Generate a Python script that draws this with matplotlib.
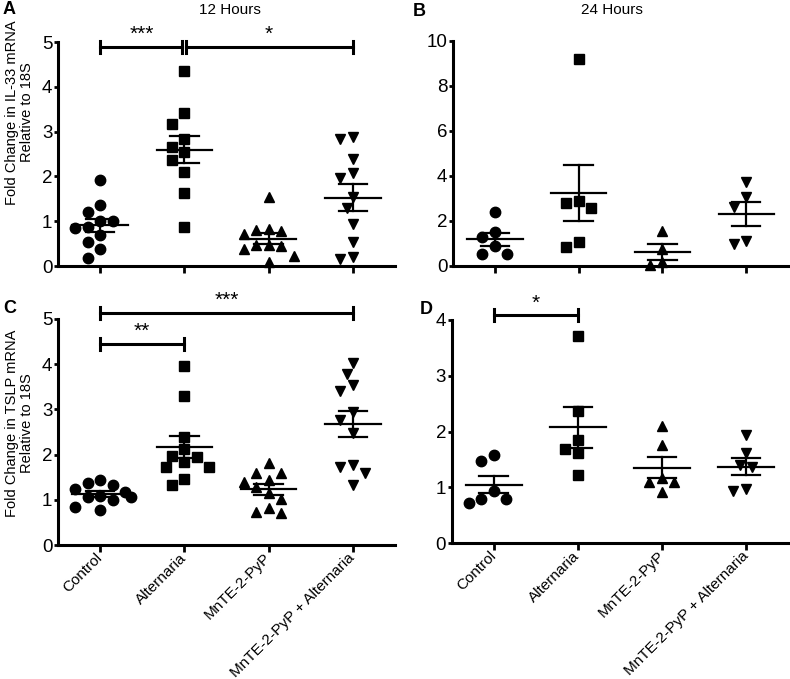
import numpy as np
import matplotlib
matplotlib.use('Agg')
import matplotlib.pyplot as plt

plt.rcParams['font.family'] = ['Liberation Sans', 'DejaVu Sans']

# Groups on the x axis
groups = ['Control', 'Alternaria', 'MnTE-2-PyP', 'MnTE-2-PyP + Alternaria']
markers = ['o', 's', '^', 'v']

# IL-33, 12 hours (panel A)
il33_12_ctrl = [1.92, 1.36, 1.21, 1.00, 1.00, 0.84, 0.88, 0.69, 0.54, 0.37, 0.19]
il33_12_alt = [4.36, 3.42, 3.18, 2.83, 2.66, 2.55, 2.37, 2.09, 1.64, 0.88]
il33_12_mn = [1.53, 0.82, 0.79, 0.80, 0.71, 0.46, 0.39, 0.45, 0.46, 0.22, 0.10]
il33_12_mnalt = [2.83, 2.87, 2.40, 1.96, 2.07, 1.55, 1.29, 0.94, 0.54, 0.15, 0.21]

# IL-33, 24 hours (panel B)
il33_24_ctrl = [2.37, 1.51, 1.29, 0.87, 0.50, 0.50]
il33_24_alt = [9.17, 2.80, 2.58, 2.89, 1.07, 0.84]
il33_24_mn = [1.56, 0.73, 0.03, 0.15]
il33_24_mnalt = [3.73, 3.07, 2.62, 0.96, 1.11]

# TSLP, 12 hours (panel C)
tslp_12_ctrl = [1.38, 1.23, 1.18, 1.33, 1.44, 1.07, 1.00, 1.07, 1.08, 0.77, 0.85]
tslp_12_alt = [3.96, 3.30, 2.40, 2.12, 1.95, 1.97, 1.84, 1.73, 1.72, 1.47, 1.33]
tslp_12_mn = [1.81, 1.59, 1.59, 1.44, 1.40, 1.28, 1.16, 1.01, 0.81, 0.74, 0.70]
tslp_12_mnalt = [4.02, 3.78, 3.54, 3.41, 2.95, 2.77, 2.47, 1.77, 1.73, 1.59, 1.33]

# TSLP, 24 hours (panel D)
tslp_24_ctrl = [1.58, 1.47, 0.94, 0.79, 0.72, 0.79]
tslp_24_alt = [3.71, 2.37, 1.85, 1.68, 1.61, 1.22]
tslp_24_mn = [2.09, 1.76, 1.10, 1.16, 1.10, 0.92]
tslp_24_mnalt = [1.94, 1.61, 1.40, 1.36, 0.94, 0.98]

# significance brackets: (from group, to group, height, label)
sig_a = [(0, 1, 4.9, '***'), (1, 3, 4.9, '*')]
sig_b = []
sig_c = [(0, 3, 5.14, '***'), (0, 1, 4.45, '**')]
sig_d = [(0, 1, 4.08, '*')]


def swarm(ax, x0, vals, diam):
    # simple beeswarm: push points sideways until they stop overlapping
    pix = ax.transData.transform(np.column_stack([np.full(len(vals), x0), vals]))
    ys = pix[:, 1]
    px_per_unit = ax.transData.transform((1, 0))[0] - ax.transData.transform((0, 0))[0]
    placed = []
    offs = np.zeros(len(vals))
    for i in np.argsort(-ys):
        for k in [0, -1, 1, -2, 2, -3, 3, -4, 4, -5, 5]:
            dx = k * diam * 0.5
            if all((dx - a) ** 2 + (ys[i] - b) ** 2 >= diam ** 2 for a, b in placed):
                break
        placed.append((dx, ys[i]))
        offs[i] = dx / px_per_unit
    return x0 + offs


def draw_panel(ax, data, ylim, yticks, sigs, show_labels):
    ax.set_xlim(-0.5, 3.5)
    ax.set_ylim(*ylim)
    for i, vals in enumerate(data):
        vals = np.asarray(vals)
        xs = swarm(ax, i, vals, 12.5)
        ms = 6.5 if markers[i] == 's' else 7.5
        ax.plot(xs, vals, markers[i], color='black', markersize=ms, clip_on=False, zorder=3)
        m = vals.mean()
        sem = vals.std(ddof=1) / np.sqrt(len(vals))
        ax.plot([i - 0.33, i + 0.33], [m, m], color='black', lw=1.6, zorder=4)
        ax.plot([i - 0.17, i + 0.17], [m + sem, m + sem], color='black', lw=1.6, zorder=4)
        ax.plot([i - 0.17, i + 0.17], [m - sem, m - sem], color='black', lw=1.6, zorder=4)
        ax.plot([i, i], [m - sem, m + sem], color='black', lw=1.6, zorder=4)

    h_px = ax.get_window_extent().height
    cap = 6 * (ylim[1] - ylim[0]) / h_px
    ends = {}
    for a, b, y, lab in sigs:
        ends.setdefault(y, []).extend([a, b])
    for a, b, y, lab in sigs:
        # leave a small gap where two brackets meet at the same group
        xa = a + (0.025 if ends[y].count(a) > 1 else 0)
        xb = b - (0.025 if ends[y].count(b) > 1 else 0)
        ax.plot([xa, xb], [y, y], color='black', lw=2.2, clip_on=False)
        for xx in (xa, xb):
            ax.plot([xx, xx], [y - cap, y + cap], color='black', lw=2.2, clip_on=False)
        ax.annotate(lab, ((a + b) / 2, y), xytext=(0, 2), textcoords='offset points',
                    ha='center', va='bottom', fontsize=15, annotation_clip=False)

    for s in ['top', 'right']:
        ax.spines[s].set_visible(False)
    for s in ['left', 'bottom']:
        ax.spines[s].set_linewidth(2.2)
    ax.set_yticks(yticks)
    ax.tick_params(axis='y', direction='out', length=3, width=2, labelsize=13.5, pad=1)
    ax.tick_params(axis='x', direction='out', length=5, width=2, pad=2.5)
    ax.set_xticks(range(4))
    if show_labels:
        ax.set_xticklabels(groups, rotation=45, ha='right', va='center',
                           rotation_mode='anchor', fontsize=11)
    else:
        ax.set_xticklabels([])


fig = plt.figure(figsize=(7.9, 6.79), dpi=100)
ax_a = fig.add_axes([0.0734, 0.6082, 0.4266, 0.3299])
ax_b = fig.add_axes([0.5734, 0.6087, 0.4241, 0.3313])
ax_c = fig.add_axes([0.0734, 0.1973, 0.4266, 0.3329])
ax_d = fig.add_axes([0.5718, 0.1999, 0.4257, 0.3292])

draw_panel(ax_a, [il33_12_ctrl, il33_12_alt, il33_12_mn, il33_12_mnalt], (0, 5), range(0, 6), sig_a, False)
draw_panel(ax_b, [il33_24_ctrl, il33_24_alt, il33_24_mn, il33_24_mnalt], (0, 10), range(0, 11, 2), sig_b, False)
draw_panel(ax_c, [tslp_12_ctrl, tslp_12_alt, tslp_12_mn, tslp_12_mnalt], (0, 5), range(0, 6), sig_c, True)
draw_panel(ax_d, [tslp_24_ctrl, tslp_24_alt, tslp_24_mn, tslp_24_mnalt], (0, 4), range(0, 5), sig_d, True)

ax_a.set_ylabel('Fold Change in IL-33 mRNA\nRelative to 18S', fontsize=10.5, linespacing=1.1)
ax_a.yaxis.set_label_coords(-0.072, 0.685)
ax_c.set_ylabel('Fold Change in TSLP mRNA\nRelative to 18S', fontsize=10.5, linespacing=1.1)
ax_c.yaxis.set_label_coords(-0.072, 0.54)

fig.text(230 / 790, 1 - 10 / 679, '12 Hours', ha='center', va='center', fontsize=11)
fig.text(612 / 790, 1 - 10 / 679, '24 Hours', ha='center', va='center', fontsize=11)
for lab, x, y in [('A', 3, 9), ('B', 413, 11), ('C', 3, 309), ('D', 420, 310)]:
    fig.text(x / 790, 1 - y / 679, lab, ha='left', va='center', fontsize=13, weight='bold')

fig.savefig('out.png', dpi=100)
